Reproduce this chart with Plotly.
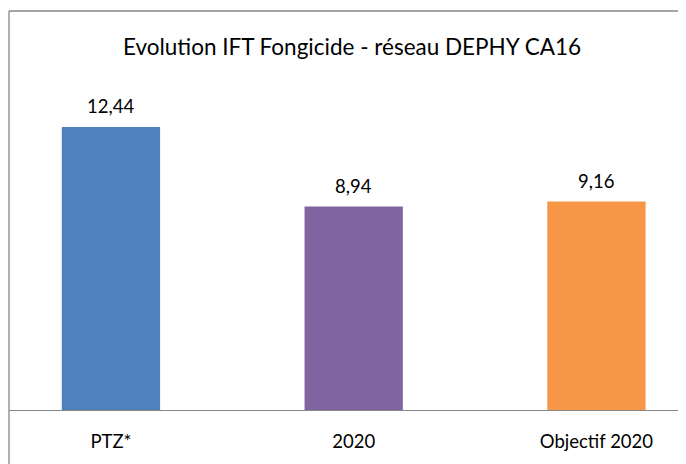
import plotly.graph_objects as go

categories = ["PTZ*", "2020", "Objectif 2020"]
values = [12.44, 8.94, 9.16]
colors = ["#4F81BD", "#8064A2", "#F79646"]
title_text = "Evolution IFT Fongicide - réseau DEPHY CA16"

labels = [f"{v:.2f}".replace(".", ",") for v in values]

# page body has an 8px default margin; compensate
OFF = 8
W, H = 686 - OFF, 464 - OFF
L, T = 9 - OFF, 11 - OFF
B = 464 - 410
plot_h = H - T - B
font = "Lato, Carlito, sans-serif"

fig = go.Figure()
fig.add_trace(go.Bar(
    x=list(range(len(categories))), y=values,
    marker=dict(color=colors, line=dict(width=0)),
    width=0.405,
    hoverinfo="skip",
))

for i, (v, lab) in enumerate(zip(values, labels)):
    fig.add_annotation(x=i, y=v, text=lab, showarrow=False,
                       yanchor="bottom", yshift=8,
                       font=dict(family=font, size=18.5, color="#000000"))

border = "#868686"
fig.add_shape(type="line", xref="paper", yref="paper",
              x0=0, x1=0, y0=-B / plot_h, y1=1, line=dict(color=border, width=1.3))
fig.add_shape(type="line", xref="paper", yref="paper",
              x0=0, x1=1.01, y0=1, y1=1, line=dict(color=border, width=1.3))

fig.update_layout(
    width=W, height=H,
    margin=dict(l=L, r=0, t=T, b=B, pad=0),
    paper_bgcolor="white", plot_bgcolor="white",
    showlegend=False,
    title=dict(text=title_text, x=(352 - 9) / (686 - 9), xref="paper", xanchor="center",
               y=1 - (47 - OFF) / H, yref="container", yanchor="middle",
               font=dict(family=font, size=22.5, color="#000000")),
    xaxis=dict(range=[-0.42, 2.369], showline=True, linecolor=border, linewidth=1.3,
               tickmode="array", tickvals=list(range(len(categories))), ticktext=categories,
               ticks="", showgrid=False, zeroline=False, ticklabelstandoff=15,
               tickfont=dict(family=font, size=18.5, color="#000000"),
               fixedrange=True),
    yaxis=dict(range=[0, plot_h / 22.75], showgrid=False, zeroline=False,
               showticklabels=False, ticks="", showline=False),
)

fig.write_html("out.html")
